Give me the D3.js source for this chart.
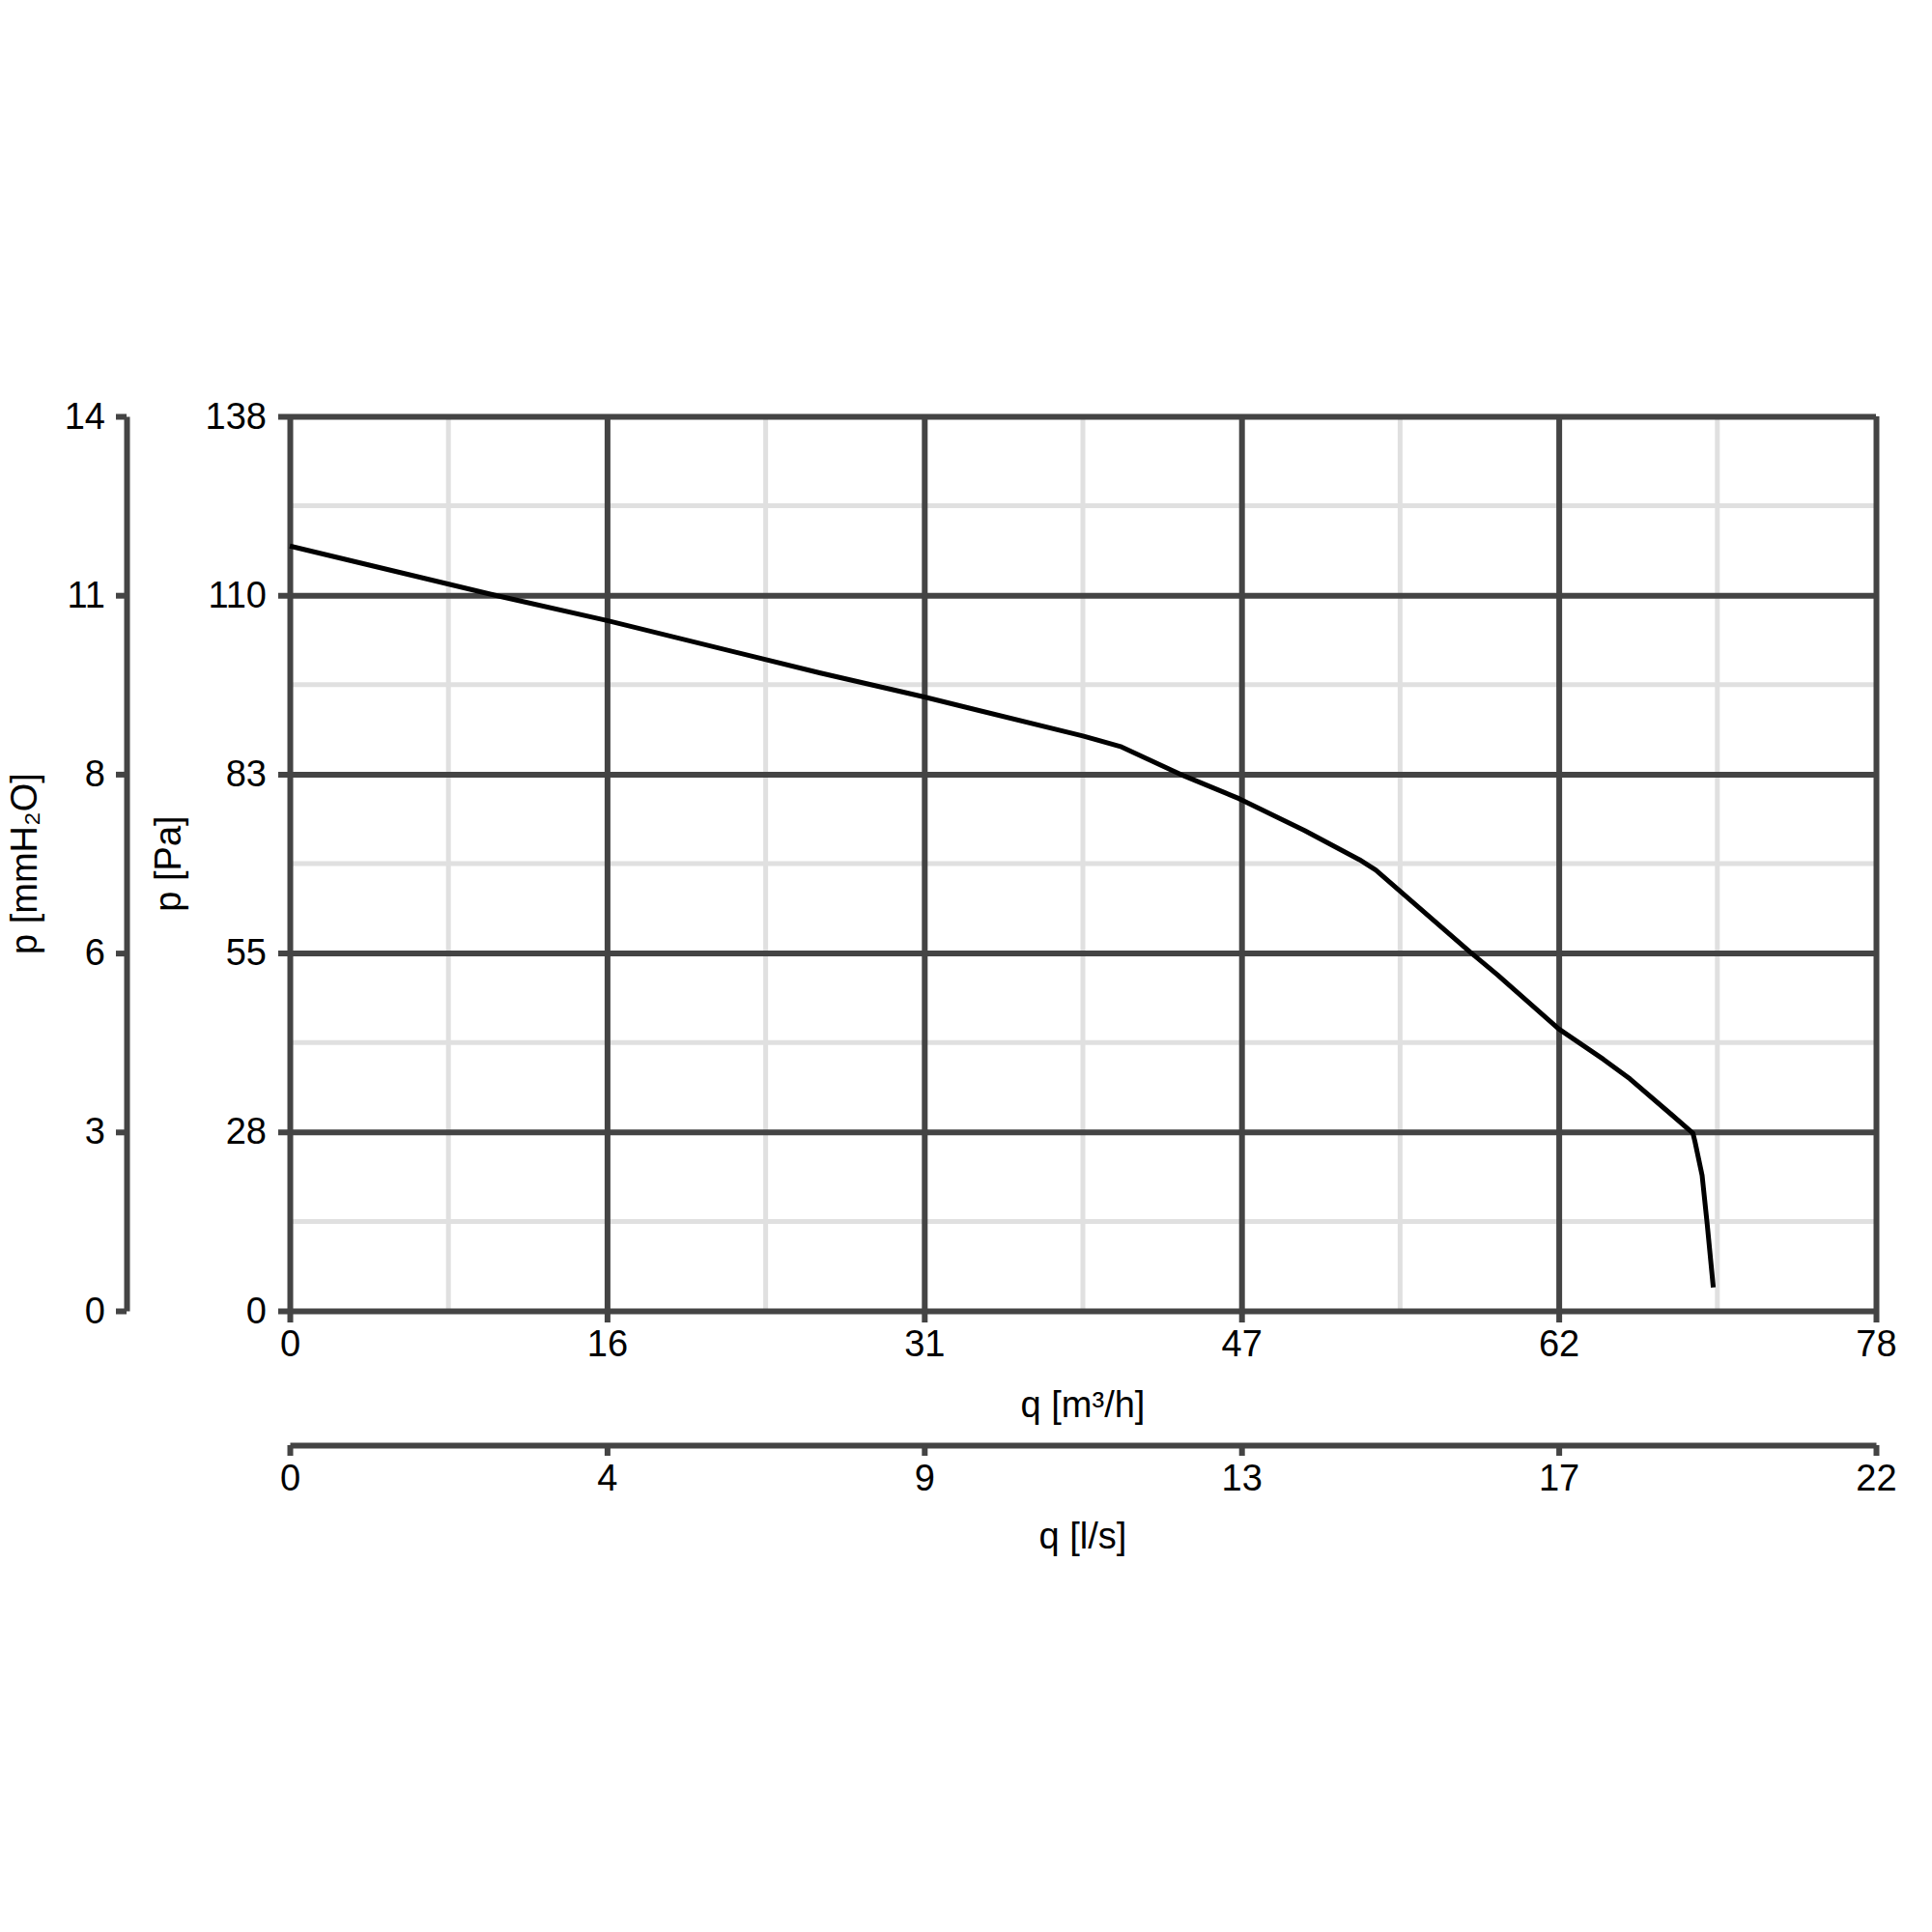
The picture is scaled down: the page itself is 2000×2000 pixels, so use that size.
<!DOCTYPE html>
<html>
<head>
<meta charset="utf-8">
<script src="https://cdn.jsdelivr.net/npm/d3@7"></script>
<style>
  html, body { margin: 0; padding: 0; background: #fff; }
  svg text { font-family: "Liberation Sans", Arial, sans-serif; }
</style>
</head>
<body>
<svg id="chart" width="2000" height="2000"></svg>
<script>
// ---- data ----
const flowM3h = [0, 10.1, 15.6, 26.1, 31.2, 39.0, 40.9, 44.0, 46.7, 49.9, 52.6, 53.4, 58.1, 59.4, 62.4, 64.6, 65.9, 67.9, 69.0, 69.1, 69.45, 69.7, 70.0];
const pressurePa = [118, 110.4, 106.5, 98.4, 94.7, 88.7, 87.0, 82.5, 79.0, 74.1, 69.6, 68.0, 55.2, 51.8, 43.5, 38.8, 35.8, 30.4, 27.4, 26.1, 20.9, 13.4, 3.6];

const qTicks = [0, 15.6, 31.2, 46.8, 62.4, 78];
const qLabels = ["0", "16", "31", "47", "62", "78"];
const qMinor = [7.8, 23.4, 39.0, 54.6, 70.2];
const lsLabels = ["0", "4", "9", "13", "17", "22"];

const pTicks = [0, 27.6, 55.2, 82.8, 110.4, 138];
const pLabels = ["0", "28", "55", "83", "110", "138"];
const pMinor = [13.8, 41.4, 69.0, 96.6, 124.2];
const mmLabels = ["0", "3", "6", "8", "11", "14"];

// ---- layout ----
const L = 300, R = 1942, T = 431, B = 1357;
const dark = "#444444", light = "#e0e0e0";
const fs = 38;
const ff = "Liberation Sans, Arial, sans-serif";

const svg = d3.select("#chart");
const x = d3.scaleLinear().domain([0, 78]).range([L, R]);
const y = d3.scaleLinear().domain([0, 138]).range([B, T]);

// minor grid
svg.append("g").selectAll("line").data(qMinor).join("line")
  .attr("x1", d => x(d)).attr("x2", d => x(d)).attr("y1", T).attr("y2", B)
  .attr("stroke", light).attr("stroke-width", 5);
svg.append("g").selectAll("line").data(pMinor).join("line")
  .attr("x1", L).attr("x2", R).attr("y1", d => y(d)).attr("y2", d => y(d))
  .attr("stroke", light).attr("stroke-width", 5);

function styleAxis(g, keepDomain) {
  if (keepDomain) g.select(".domain").attr("stroke", dark).attr("stroke-width", 6);
  else g.select(".domain").remove();
  g.selectAll(".tick line").attr("stroke", dark).attr("stroke-width", 6);
  g.selectAll(".tick text").attr("font-size", fs).attr("fill", "#000").attr("font-family", ff);
}

// major grid + Pa axis (labels left)
const yAxis = svg.append("g").attr("transform", `translate(${R},0)`)
  .call(d3.axisLeft(y).tickValues(pTicks).tickFormat((d, i) => pLabels[i])
    .tickSize(R - L + 12).tickPadding(12));
styleAxis(yAxis, false);

// major grid + m3/h axis (labels below)
const xAxis = svg.append("g").attr("transform", `translate(0,${T})`)
  .call(d3.axisBottom(x).tickValues(qTicks).tickFormat((d, i) => qLabels[i])
    .tickSize(B - T + 12).tickPadding(8));
styleAxis(xAxis, false);

// mmH2O axis
const mmAxis = svg.append("g").attr("transform", `translate(131,0)`)
  .call(d3.axisLeft(y).tickValues(pTicks).tickFormat((d, i) => mmLabels[i])
    .tickSize(11).tickSizeOuter(0).tickPadding(11));
styleAxis(mmAxis, true);

// l/s axis
const lsAxis = svg.append("g").attr("transform", `translate(0,1496)`)
  .call(d3.axisBottom(x).tickValues(qTicks).tickFormat((d, i) => lsLabels[i])
    .tickSize(11).tickSizeOuter(0).tickPadding(9));
styleAxis(lsAxis, true);

// curve
const pts = flowM3h.map((q, i) => [q, pressurePa[i]]);
const line = d3.line().x(d => x(d[0])).y(d => y(d[1])).curve(d3.curveLinear);
svg.append("path").datum(pts)
  .attr("d", line)
  .attr("fill", "none").attr("stroke", "#000").attr("stroke-width", 5)
  .attr("stroke-linejoin", "round");

// axis titles
const cy = (T + B) / 2, cx = (L + R) / 2;
svg.append("text").attr("transform", `translate(38,${cy}) rotate(-90)`)
  .attr("text-anchor", "middle").attr("font-size", fs).text("p [mmH₂O]");
svg.append("text").attr("transform", `translate(187,${cy}) rotate(-90)`)
  .attr("text-anchor", "middle").attr("font-size", fs).text("p [Pa]");
svg.append("text").attr("x", cx).attr("y", 1467)
  .attr("text-anchor", "middle").attr("font-size", fs).text("q [m³/h]");
svg.append("text").attr("x", cx).attr("y", 1603)
  .attr("text-anchor", "middle").attr("font-size", fs).text("q [l/s]");
</script>
</body>
</html>
